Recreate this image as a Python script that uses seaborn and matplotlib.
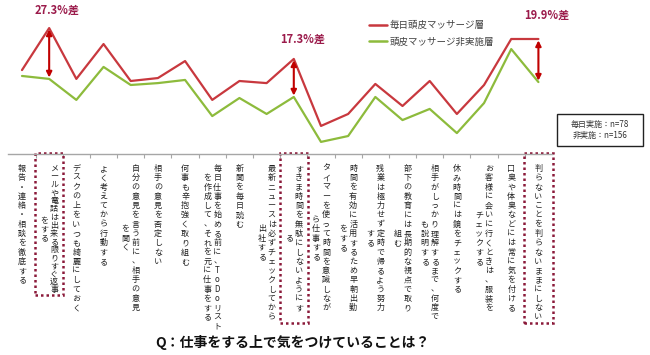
import numpy as np
import pandas as pd
import seaborn as sns
import matplotlib
matplotlib.use("Agg")
import matplotlib.pyplot as plt
from matplotlib.patches import Rectangle
from matplotlib.transforms import blended_transform_factory
from matplotlib.lines import Line2D

# ---------------- data ----------------
categories = [
    "報告・連絡・相談を徹底する",
    "メールや電話は出来る限りすぐ返事\nをする",
    "デスクの上をいつも綺麗にしておく",
    "よく考えてから行動する",
    "自分の意見を言う前に、相手の意見\nを聞く",
    "相手の意見を否定しない",
    "何事も辛抱強く取り組む",
    "毎日仕事を始める前に、ToDoリスト\nを作成して、それを元に仕事をする",
    "新聞を毎日読む",
    "最新ニュースは必ずチェックしてから\n出社する",
    "すきま時間を無駄にしないようにす\nる",
    "タイマーを使って時間を意識しなが\nら仕事する",
    "時間を有効に活用するため早朝出勤\nをする",
    "残業は極力せず定時で帰るよう努力\nする",
    "部下の教育には長期的な視点で取り\n組む",
    "相手がしっかり理解するまで、何度で\nも説明する",
    "休み時間には鏡をチェックする",
    "お客様に会いに行くときは、服装を\nチェックする",
    "口臭や体臭などには常に気を付ける",
    "判らないことを判らないままにしない",
]
series_names = ["毎日頭皮マッサージ層", "頭皮マッサージ非実施層"]
daily = [55.2, 75.2, 51.0, 67.6, 50.0, 51.4, 59.5, 41.0, 50.0, 49.0,
         60.5, 28.6, 34.3, 48.6, 38.1, 50.0, 34.3, 48.1, 70.0, 70.0]
non = [52.4, 51.0, 41.0, 56.7, 48.1, 49.0, 50.5, 33.3, 41.9, 34.3,
       42.4, 21.0, 23.8, 42.4, 31.4, 36.7, 25.2, 39.5, 65.2, 49.5]
highlight_idx = [1, 10, 19]
diff_labels = ["27.3%差", "17.3%差", "19.9%差"]
sample_texts = ["毎日実施：n=78", "非実施：n=156"]
title_text = "Q：仕事をする上で気をつけていることは？"

RED = "#c8383e"
GREEN = "#8dbb3c"
ARROW = "#c00000"
DIFFC = "#9b1b4b"
BOXC = "#8b1a3a"

# ---------------- style ----------------
sns.set_theme(style="white")
plt.rcParams["font.family"] = ["Noto Sans CJK JP", "DejaVu Sans"]

fig = plt.figure(figsize=(6.5, 3.55), dpi=100)
W, H = 650, 355
ax = fig.add_axes([8.4 / W, 1 - 154 / H, (552 - 8.4) / W, 149 / H])

df = pd.DataFrame({
    "x": list(range(len(categories))) * 2,
    "value": daily + non,
    "series": [series_names[0]] * len(daily) + [series_names[1]] * len(non),
})
sns.lineplot(data=df, x="x", y="value", hue="series",
             palette=[RED, GREEN], linewidth=1.6, ax=ax, legend=False)

ax.set_xlim(-0.5, len(categories) - 0.5)
ax.set_ylim(15.24, 86.19)
ax.set_xlabel("")
ax.set_ylabel("")
ax.set_yticks([])
for s in ["top", "left", "right"]:
    ax.spines[s].set_visible(False)
ax.spines["bottom"].set_color("#a6a6a6")
ax.spines["bottom"].set_linewidth(1.0)
ax.set_xticks(np.arange(0.5, len(categories) - 1, 1.0))
ax.set_xticklabels([])
ax.tick_params(axis="x", direction="out", length=3, width=0.8, color="#a6a6a6", bottom=True)
ax.patch.set_alpha(0)

# ---------------- vertical category labels ----------------
blend = blended_transform_factory(ax.transData, fig.transFigure)
y_top = 1 - 164 / H
col_gap_pt = 7.2  # ~10 px between columns
LAB_FS = 5.8
for i, lab in enumerate(categories):
    cols = lab.split("\n")
    n = len(cols)
    ls = 0.87 if i == 1 else 1.04
    offsets = [((n - 1) / 2 - k) * col_gap_pt for k in range(n)]
    first = ax.annotate("\n".join(cols[0]), xy=(i, y_top), xycoords=blend,
                        xytext=(offsets[0], 0), textcoords="offset points",
                        ha="center", va="top", fontsize=LAB_FS, linespacing=ls,
                        color="#222222", annotation_clip=False)
    for k in range(1, n):
        ax.annotate("\n".join(cols[k]), xy=(0.5, 0.5), xycoords=first,
                    xytext=(offsets[k] - offsets[0], 0), textcoords="offset points",
                    ha="center", va="center", fontsize=LAB_FS, linespacing=ls,
                    color="#222222", annotation_clip=False)

# ---------------- highlight boxes ----------------
box_bottoms = [295, 323, 323]
for idx, yb in zip(highlight_idx, box_bottoms):
    r = Rectangle((idx - 0.52, 1 - yb / H), 1.04, (yb - 153) / H,
                  transform=blend, fill=False, edgecolor=BOXC,
                  linewidth=1.8, linestyle=(0, (1, 1.2)), clip_on=False)
    ax.add_patch(r)

# ---------------- difference arrows & labels ----------------
text_offsets = [(6, 13), (6.5, 14.5), (6, 17)]
for idx, lab, off in zip(highlight_idx, diff_labels, text_offsets):
    ax.annotate("", xy=(idx, non[idx]), xytext=(idx, daily[idx]),
                arrowprops=dict(arrowstyle="<|-|>", color=ARROW, lw=1.5,
                                mutation_scale=8, shrinkA=1, shrinkB=1),
                annotation_clip=False)
    ax.annotate(lab, xy=(idx, daily[idx]), xytext=off, textcoords="offset points",
                ha="center", va="center", fontsize=8, fontweight="bold",
                color=DIFFC, annotation_clip=False)

# ---------------- legend ----------------
handles = [Line2D([], [], color=RED, lw=1.8), Line2D([], [], color=GREEN, lw=1.8)]
leg = ax.legend(handles, series_names, loc="upper left",
                bbox_to_anchor=(369 / W, 1 - 21 / H), bbox_transform=fig.transFigure,
                frameon=False, fontsize=6.8, handlelength=1.9, handletextpad=0.3,
                labelspacing=0.75, borderpad=0, borderaxespad=0)
for t in leg.get_texts():
    t.set_color("#404040")

# ---------------- sample box ----------------
fig.patches.append(Rectangle((557 / W, 1 - 146 / H), 86 / W, 32 / H,
                             transform=fig.transFigure, fill=False,
                             edgecolor="#222222", linewidth=1.0))
fig.text(600 / W, 1 - 124.5 / H, sample_texts[0], ha="center", va="center",
         fontsize=5.8, color="#333333")
fig.text(600 / W, 1 - 135.5 / H, sample_texts[1], ha="center", va="center",
         fontsize=5.8, color="#333333")

# ---------------- title ----------------
fig.text(292 / W, 1 - 342 / H, title_text, ha="center", va="center",
         fontsize=10, fontweight="bold", color="#111111")

fig.savefig("out.png", dpi=100)
